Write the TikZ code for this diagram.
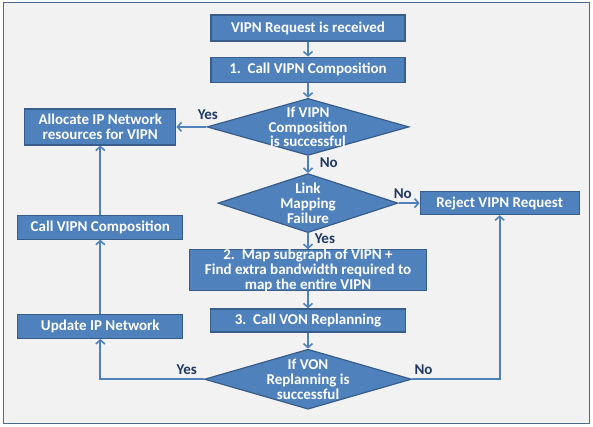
\documentclass[tikz,border=0pt]{standalone}
\usepackage{fontspec}
\setmainfont{Carlito}
\usetikzlibrary{arrows.meta}
\usetikzlibrary{shapes.geometric}
\usetikzlibrary{positioning}
\definecolor{boxblue}{HTML}{4F81BD}
\definecolor{boxline}{HTML}{385D8A}
\definecolor{labnavy}{HTML}{1F3864}
\definecolor{framegray}{HTML}{F2F2F2}
\definecolor{frameline}{HTML}{4A6A8E}
\tikzset{
  x = 1pt, y = -1pt,
  flow/.style = {draw = boxblue, line width = 1.7pt, -{Straight Barb[length = 4pt, width = 9pt, line width = 1.6pt]}},
  procbox/.style = {rectangle, draw = boxline, line width = 1.2pt, fill = boxblue, text = white,
    font = \bfseries\fontsize{15}{14.8}\selectfont, align = center, inner sep = 1pt},
  decision/.style = {diamond, draw = boxline, line width = 1.2pt, fill = boxblue, text = white,
    font = \bfseries\fontsize{15}{14.8}\selectfont, align = center, inner sep = -10pt, aspect = 3},
  answer/.style = {text = labnavy, font = \bfseries\fontsize{15}{15}\selectfont, inner sep = 1pt}
}

\begin{document}
\begin{tikzpicture}
  % frame
  \useasboundingbox (0,0) rectangle (593,426);
  \draw [draw = frameline, fill = framegray, line width = 1.6pt] (3.5,2.5) rectangle (589.5,423.5);
  % main column
  \node [procbox, minimum width = 194pt, minimum height = 26pt] (recv) at (308,28) {VIPN Request is received};
  \node [procbox, minimum width = 194pt, minimum height = 25pt, below = 15pt of recv] (comp1) {1.\ \ Call VIPN Composition};
  \node [decision, minimum width = 202pt, minimum height = 57pt, below = 15pt of comp1] (ifvipn) {If VIPN\\Composition\\is successful};
  \node [decision, minimum width = 180pt, minimum height = 59pt, below = 17pt of ifvipn] (linkfail) {Link\\Mapping\\Failure};
  \node [procbox, minimum width = 237pt, minimum height = 41pt, inner ysep = -2pt, below = 16pt of linkfail] (mapsub)
    {2.\ \ Map subgraph of VIPN +\\Find extra bandwidth required to\\map the entire VIPN};
  \node [procbox, minimum width = 195pt, minimum height = 23pt, below = 17pt of mapsub] (replan) {3.\ \ Call VON Replanning};
  \node [decision, minimum width = 207pt, minimum height = 60pt, below = 16pt of replan] (ifvon) {If VON\\Replanning is\\successful};
  % side columns
  \node [procbox, minimum width = 151pt, minimum height = 36pt, left = 30pt of ifvipn] (alloc) {Allocate IP Network\\resources for VIPN};
  \node [procbox, minimum width = 165pt, minimum height = 24pt, below = 69pt of alloc] (comp2) {Call VIPN Composition};
  \node [procbox, minimum width = 165pt, minimum height = 24pt, below = 74pt of comp2] (update) {Update IP Network};
  \node [procbox, minimum width = 159pt, minimum height = 23pt, right = 21pt of linkfail] (reject) {Reject VIPN Request};
  % corner points
  \coordinate (yescorner) at (update |- ifvon);
  \coordinate (nocorner) at (reject |- ifvon);
  % paths
  \draw [flow] (recv) -- (comp1);
  \draw [flow] (comp1) -- (ifvipn);
  \draw [flow] (ifvipn) -- node [answer, above = 5pt, pos = -0.05] {Yes} (alloc);
  \draw [flow] (ifvipn) -- node [answer, right = 10pt, pos = 0.4] {No} (linkfail);
  \draw [flow] (linkfail) -- node [answer, above = 3pt, pos = 0.2] {No} (reject);
  \draw [flow] (linkfail) -- node [answer, right = 5pt, pos = 0.35] {Yes} (mapsub);
  \draw [flow] (mapsub) -- (replan);
  \draw [flow] (replan) -- (ifvon);
  \draw [flow] (ifvon.west) -- node [answer, above = 3pt, pos = 0.165] {Yes} (yescorner) -- (update);
  \draw [flow] (ifvon.east) -- node [answer, above = 3pt, pos = 0.13] {No} (nocorner) -- (reject);
  \draw [flow] (update) -- (comp2);
  \draw [flow] (comp2) -- (alloc);
\end{tikzpicture}
\end{document}
